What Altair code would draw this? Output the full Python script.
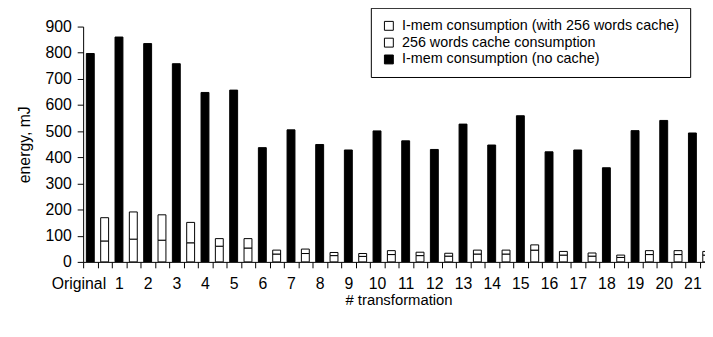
import altair as alt
import pandas as pd

categories = ["Original"] + [str(i) for i in range(1, 22)]
no_cache = [797, 860, 835, 758, 648, 657, 437, 505, 449, 428, 501, 463, 430, 527,
            447, 559, 421, 428, 360, 502, 541, 493]
cache_cons = [80, 87, 83, 73, 60, 53, 30, 32, 24, 21, 28, 24, 22, 30,
              30, 45, 26, 22, 17, 28, 28, 26]
imem_with_cache = [89, 104, 97, 78, 29, 36, 15, 17, 12, 11, 15, 13, 11, 15,
                   15, 20, 14, 12, 9, 15, 15, 14]

S_WITH = "I-mem consumption (with 256 words cache)"
S_CACHE = "256 words cache consumption"
S_NO = "I-mem consumption (no cache)"
series_order = [S_WITH, S_CACHE, S_NO]

rows = []
slots = []
for i, c in enumerate(categories):
    slots += [c + "|k", c + "|w"]
    rows.append({"slot": c + "|k", "series": S_NO, "value": no_cache[i], "ord": 0})
    rows.append({"slot": c + "|w", "series": S_CACHE, "value": cache_cons[i], "ord": 0})
    rows.append({"slot": c + "|w", "series": S_WITH, "value": imem_with_cache[i], "ord": 1})
df = pd.DataFrame(rows)

FONT = "Liberation Sans"
LABEL_EXPR = ("isString(datum.value) && test(/[|]k$/, datum.value) ? "
              "replace(datum.value, /[|]k$/, '') : ''")

chart = alt.Chart(df).mark_bar(width=8, stroke="black", strokeWidth=1, clip=True).encode(
    x=alt.X("slot:N", sort=slots,
            scale=alt.Scale(domain=slots, range=[0, 638], paddingInner=0, paddingOuter=0),
            axis=alt.Axis(title="# transformation",
                          labelExpr=LABEL_EXPR,
                          labelAngle=0, tickBand="extent", tickSize=6, labelPadding=8,
                          labelFontSize=16, titleFontSize=15, titleFontWeight="normal",
                          titlePadding=1, labelFont=FONT, titleFont=FONT,
                          labelColor="black", titleColor="black", domainColor="black",
                          tickColor="black", labelOverlap=False,
                          labelOffset={"condition": {"test": "datum.value == 'Original|k'", "value": -12}, "value": 0})),
    y=alt.Y("value:Q", stack="zero",
            scale=alt.Scale(domain=[0, 900], nice=False),
            axis=alt.Axis(title="energy, mJ", values=list(range(0, 901, 100)), grid=False,
                          tickSize=6, labelFontSize=16, titleFontSize=16, titleFontWeight="normal",
                          labelFont=FONT, titleFont=FONT, labelColor="black", titleColor="black",
                          domainColor="black", tickColor="black", titlePadding=13, labelPadding=6)),
    fill=alt.Fill("series:N",
                  scale=alt.Scale(domain=series_order, range=["white", "white", "black"]),
                  legend=alt.Legend(title=None, orient="none", legendX=291, legendY=-19,
                                    symbolType="square", symbolSize=81,
                                    symbolStrokeColor="black", symbolStrokeWidth=1,
                                    labelFontSize=14.5, labelFont=FONT, labelColor="black",
                                    strokeColor="black", fillColor="white", padding=11,
                                    rowPadding=2, labelOffset=6, labelLimit=400)),
    order=alt.Order("ord:Q"),
).properties(
    width=629, height=238,
    autosize=alt.AutoSizeParams(type="none"),
    padding={"left": 76, "top": 17, "right": 0, "bottom": 58},
).configure_view(stroke=None)

chart.save("out.html", embed_options={"renderer": "svg", "actions": False})
